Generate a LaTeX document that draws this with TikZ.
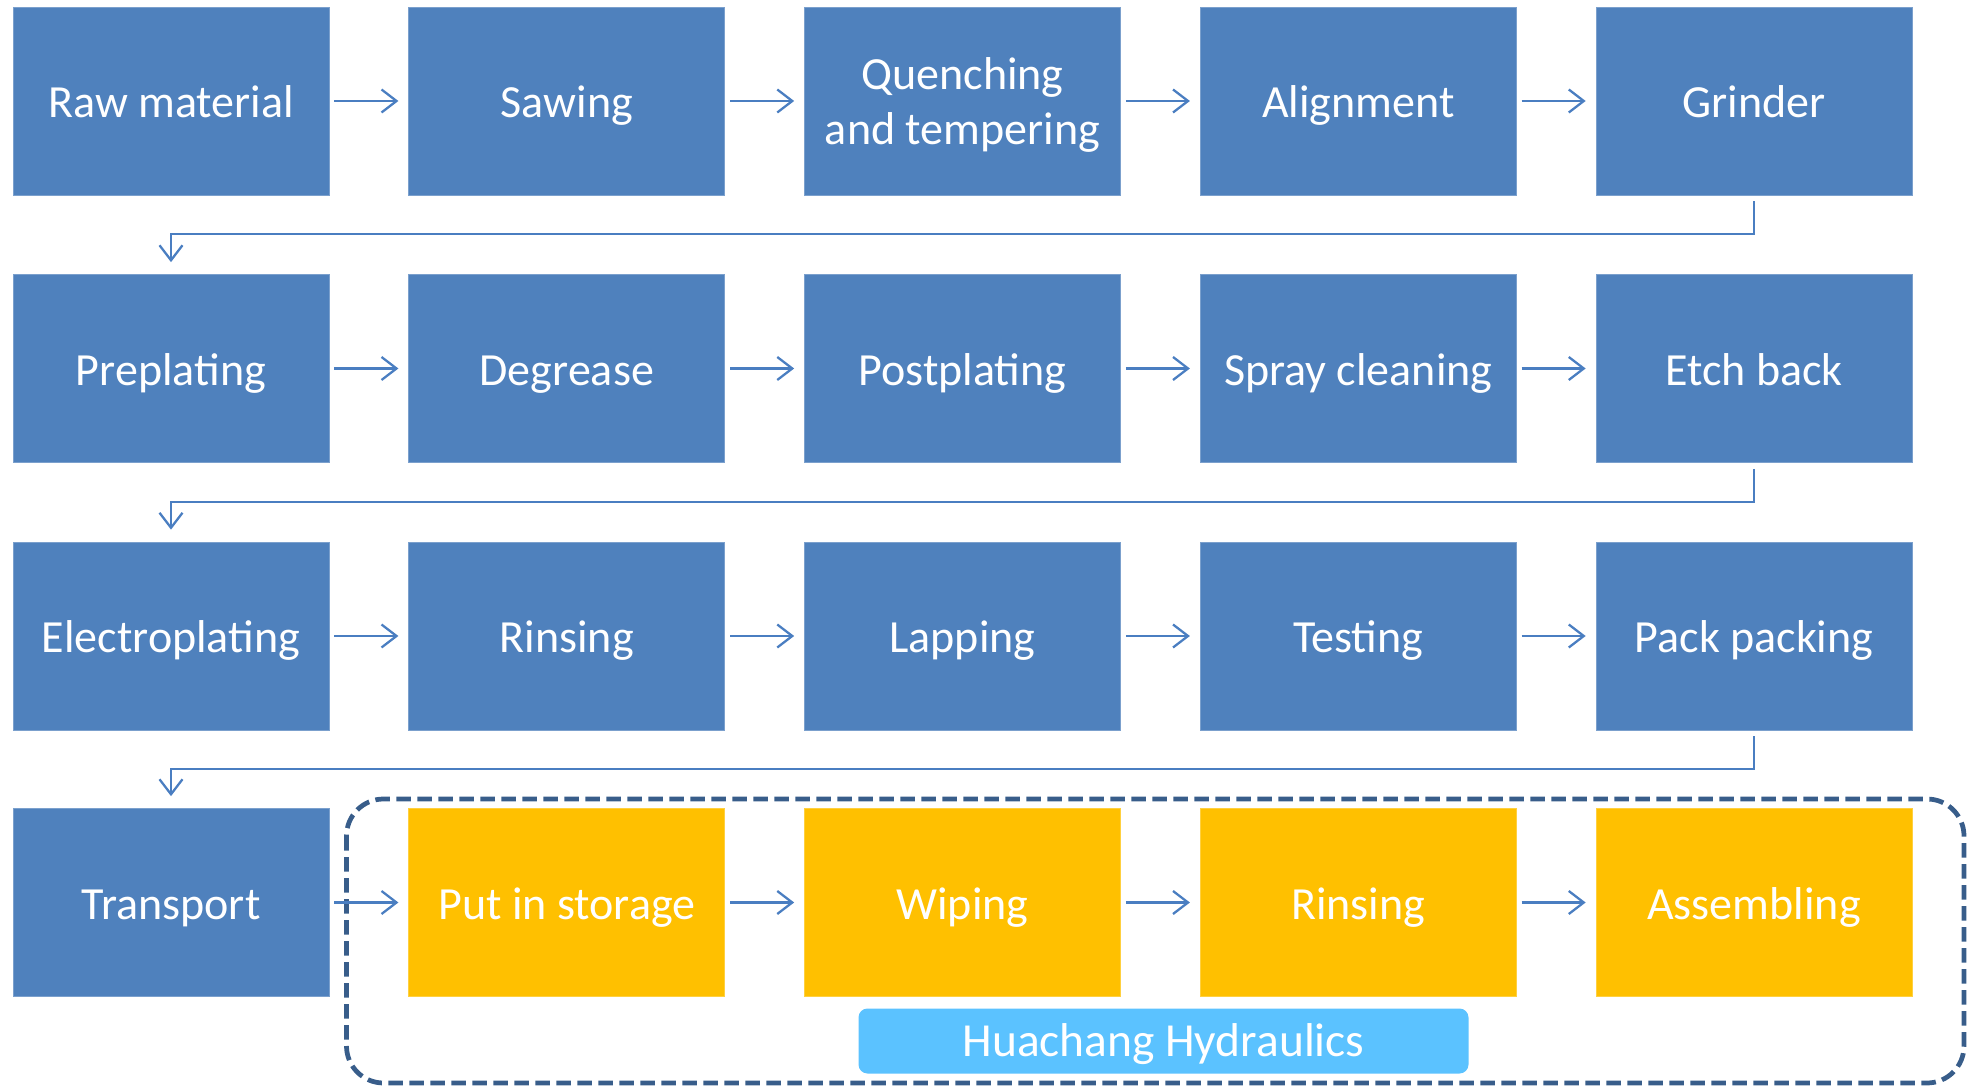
\documentclass[tikz,border=0pt]{standalone}
\usepackage{fontspec}
\setmainfont{Carlito}
\usepackage{xcolor}
\usetikzlibrary{arrows.meta}
\definecolor{flowBlue}{RGB}{79,129,189}
\definecolor{flowGold}{RGB}{255,192,0}
\definecolor{flowLine}{RGB}{74,126,193}
\definecolor{flowDash}{RGB}{56,93,138}
\definecolor{flowSky}{RGB}{91,194,255}
\newcommand{\flowstrut}{\rule[-0.2cm]{0pt}{1.08cm}}

\begin{document}
\begin{tikzpicture}[
    proc/.style={fill=flowBlue,draw=flowBlue!75!white,line width=0.4pt,text=white,
      minimum width=6.32cm,minimum height=3.76cm,align=center,inner sep=0pt,
      font=\fontsize{26.2}{31.3}\selectfont,
      execute at begin node=\flowstrut,execute at end node=\flowstrut},
    twoline/.style={text height=1.96cm,text depth=0.2cm},
    own/.style={fill=flowGold,draw=flowGold!75!white},
    arr/.style={-{Straight Barb[length=3mm,width=4.6mm]},line width=1.3pt,draw=flowLine,
      shorten <=0.1cm,shorten >=0.2cm},
    turn/.style={arr,shorten <=0.12cm,shorten >=0.24cm},
    group/.style={draw=flowDash,line width=2.7pt,dash pattern=on 0.29cm off 0.13cm,
      rounded corners=0.74cm},
    tag/.style={fill=flowSky,rounded corners=0.18cm,text=white,inner sep=0pt,
      minimum width=12.2cm,minimum height=1.3cm,text height=0.6cm,text depth=0pt,
      font=\fontsize{27}{32}\selectfont}
  ]
  \useasboundingbox (0,0) rectangle (39.34,-21.72);

  % row 1
  \node[proc] (rawmat)  at (3.42,-2.02)   {Raw material};
  \node[proc] (sawing)  at (11.335,-2.02) {Sawing};
  \node[proc,twoline] (quench) at (19.25,-2.02) {Quenching\\and tempering};
  \node[proc] (align)   at (27.165,-2.02) {Alignment};
  \node[proc] (grinder) at (35.08,-2.02)  {Grinder};
  % row 2
  \node[proc] (preplate)  at (3.42,-7.37)   {Preplating};
  \node[proc] (degrease)  at (11.335,-7.37) {Degrease};
  \node[proc] (postplate) at (19.25,-7.37)  {Postplating};
  \node[proc] (spray)     at (27.165,-7.37) {Spray cleaning};
  \node[proc] (etch)      at (35.08,-7.37)  {Etch back};
  % row 3
  \node[proc] (electro) at (3.42,-12.72)   {Electroplating};
  \node[proc] (rinse)   at (11.335,-12.72) {Rinsing};
  \node[proc] (lapping) at (19.25,-12.72)  {Lapping};
  \node[proc] (testing) at (27.165,-12.72) {Testing};
  \node[proc] (pack)    at (35.08,-12.72)  {Pack packing};
  % row 4
  \node[proc]     (transport) at (3.42,-18.05)   {Transport};
  \node[proc,own] (storage)   at (11.335,-18.05) {Put in storage};
  \node[proc,own] (wiping)    at (19.25,-18.05)  {Wiping};
  \node[proc,own] (rinsetwo)  at (27.165,-18.05) {Rinsing};
  \node[proc,own] (assembly)  at (35.08,-18.05)  {Assembling};

  % customer side
  \draw[group] (6.93,-15.98) rectangle (39.28,-21.66);
  \node[tag] (hhtag) at (23.27,-20.82) {Huachang Hydraulics};

  \draw[arr] (rawmat) -- (sawing);
  \draw[arr] (sawing) -- (quench);
  \draw[arr] (quench) -- (align);
  \draw[arr] (align) -- (grinder);
  \draw[turn] (grinder.south) -- ++(0,-0.78) -| (preplate.north);
  \draw[arr] (preplate) -- (degrease);
  \draw[arr] (degrease) -- (postplate);
  \draw[arr] (postplate) -- (spray);
  \draw[arr] (spray) -- (etch);
  \draw[turn] (etch.south) -- ++(0,-0.78) -| (electro.north);
  \draw[arr] (electro) -- (rinse);
  \draw[arr] (rinse) -- (lapping);
  \draw[arr] (lapping) -- (testing);
  \draw[arr] (testing) -- (pack);
  \draw[turn] (pack.south) -- ++(0,-0.78) -| (transport.north);
  \draw[arr] (transport) -- (storage);
  \draw[arr] (storage) -- (wiping);
  \draw[arr] (wiping) -- (rinsetwo);
  \draw[arr] (rinsetwo) -- (assembly);
\end{tikzpicture}
\end{document}
